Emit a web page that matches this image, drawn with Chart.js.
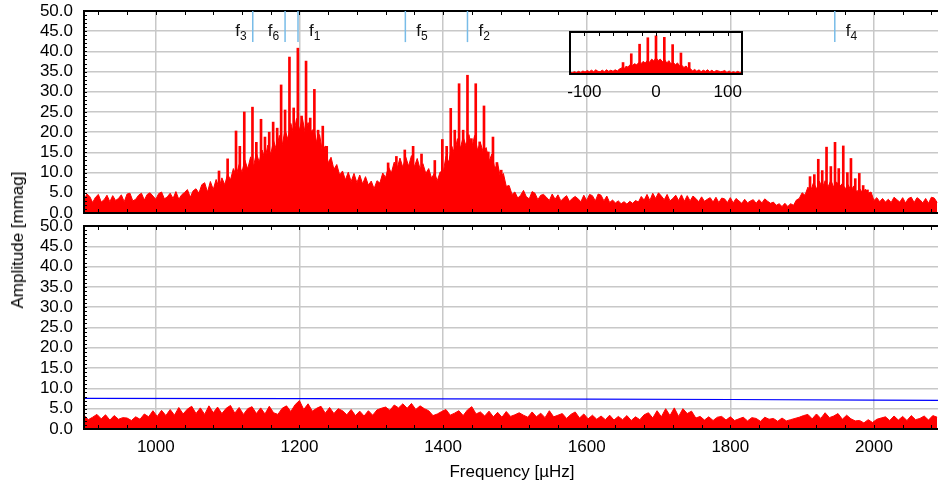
<!DOCTYPE html>
<html>
<head>
<meta charset="utf-8">
<script src="https://cdn.jsdelivr.net/npm/chart.js@4.4.1/dist/chart.umd.min.js"></script>
<style>
html, body { margin: 0; padding: 0; background: #fff; overflow: hidden; }
#wrap { position: relative; width: 938px; height: 489px; overflow: hidden; }
canvas { position: absolute; }
#topChart { left: 0; top: 0; }
#botChart { left: 0; top: 215px; }
#winChart { left: 550px; top: 20px; }
#ylab {
    position: absolute; left: 17.5px; top: 240px;
    transform: translate(-50%, -50%) rotate(-90deg);
    white-space: nowrap; font: 17px "Liberation Sans", Arial, sans-serif; color: #000;
}
</style>
</head>
<body>
<div id="wrap">
    <canvas id="topChart" width="941" height="224"></canvas>
    <canvas id="botChart" width="941" height="274"></canvas>
    <canvas id="winChart" width="210" height="85"></canvas>
    <div id="ylab">Amplitude [mmag]</div>
</div>
<script>
const FONT = '"Liberation Sans", Arial, sans-serif';
const GRID = "#c8c8c8";

// tick labels
const xTicks = [1000, 1200, 1400, 1600, 1800, 2000];
const yTicks = [0, 5, 10, 15, 20, 25, 30, 35, 40, 45, 50];
const winTicks = [-100, 0, 100];

// amplitude spectrum: highest value in each 4 µHz bin, bins start at 900 µHz
const specStart = 900, specStep = 4;
const specAmp = [
    3.2, 4.7, 4.1, 2.6, 3.9, 4.6, 2.7, 3.3, 4.4, 2.8,
    4.3, 3.1, 3.6, 4.5, 2.8, 4.7, 4.9, 3.0, 3.4, 4.4,
    4.9, 3.2, 4.6, 5.0, 4.2, 3.4, 4.8, 5.2, 3.5, 4.0,
    4.9, 3.6, 5.3, 3.4, 4.5, 5.1, 5.8, 3.9, 5.5, 6.0,
    4.9, 7.0, 7.5, 5.2, 7.8, 5.8, 8.3, 6.2, 8.7, 7.0,
    9.6, 8.2, 11.0, 9.3, 12.0, 10.1, 13.1, 10.9, 13.9, 11.5,
    14.8, 12.6, 15.6, 13.4, 16.8, 14.5, 17.9, 15.6, 19.2, 16.8,
    20.6, 18.2, 22.2, 19.6, 23.4, 20.5, 23.6, 19.8, 22.4, 20.2,
    20.8, 17.6, 19.4, 15.2, 16.6, 12.4, 13.8, 10.8, 12.0, 9.4,
    10.4, 8.2, 10.1, 7.8, 9.8, 7.5, 9.4, 7.2, 9.0, 6.9,
    7.9, 6.0, 8.0, 7.4, 9.9, 8.8, 11.4, 9.9, 12.6, 11.0,
    13.6, 11.3, 13.9, 11.6, 14.2, 11.4, 13.5, 10.9, 12.2, 9.8,
    11.0, 8.6, 9.9, 8.0, 10.2, 9.8, 14.0, 12.6, 16.6, 14.8,
    18.4, 16.0, 18.8, 16.6, 19.4, 16.2, 19.2, 15.6, 17.4, 15.0,
    16.2, 12.8, 14.6, 11.0, 12.2, 8.8, 9.8, 6.6, 6.8, 4.6,
    5.2, 3.7, 4.4, 5.6, 4.0, 3.5, 5.3, 4.9, 3.3, 4.4,
    4.6, 3.9, 3.1, 4.7, 3.4, 4.5, 3.0, 3.7, 4.3, 2.9,
    3.6, 4.1, 3.5, 2.8, 4.4, 3.1, 4.6, 4.3, 3.0, 4.7,
    4.4, 3.0, 4.2, 2.6, 3.2, 2.5, 3.0, 2.3, 2.8, 2.2,
    2.9, 2.4, 3.1, 2.7, 4.1, 3.2, 4.6, 3.1, 4.9, 3.6,
    5.0, 4.2, 3.3, 4.6, 3.0, 3.6, 4.4, 3.1, 4.5, 2.9,
    4.3, 3.0, 4.2, 3.6, 2.8, 4.0, 2.9, 3.4, 3.8, 2.7,
    3.9, 2.6, 3.7, 3.5, 2.6, 3.8, 2.5, 3.6, 3.0, 2.4,
    3.4, 2.5, 3.0, 3.3, 2.4, 3.3, 2.5, 3.5, 2.9, 2.4,
    2.7, 1.9, 2.3, 1.6, 2.4, 1.6, 2.3, 1.9, 3.2, 3.6,
    5.0, 4.4, 6.4, 5.5, 7.6, 5.9, 7.9, 6.1, 8.0, 6.4,
    8.1, 6.4, 7.7, 6.5, 7.3, 6.0, 7.0, 5.6, 6.7, 5.2,
    6.1, 5.0, 5.9, 4.9, 5.2, 3.1, 3.8, 2.8, 3.6, 2.7,
    3.4, 2.6, 3.9, 3.3, 2.7, 3.8, 2.5, 3.6, 3.9, 2.6,
    3.8, 3.3, 2.5, 3.6, 2.4, 3.9, 3.7, 2.6
];

// narrow peaks standing out of the spectrum (daily alias combs)
const peakFreq = [
    1088, 1100, 1111.7, 1117, 1123.2, 1134.6, 1140, 1146.5, 1152, 1157.9, 1163.4, 1169,
    1174.5, 1180, 1186.1, 1192, 1197.8, 1203, 1209.2, 1215, 1220.8, 1226, 1232.5, 1238,
    1323.5, 1335, 1346.7, 1358.3, 1370, 1388.5,
    1399, 1405, 1410.7, 1416.3, 1422.3, 1428, 1434, 1439.5, 1445.5, 1451, 1457, 1463,
    1469.5, 1475, 1481,
    1911, 1917, 1922.5, 1928, 1934, 1940, 1945.8, 1951, 1957.3, 1963, 1968, 1974,
    1979.6, 1985, 1991
];
const peakAmp = [
    10.4, 13.4, 20.3, 16.5, 25.0, 26.2, 17.5, 23.2, 18.8, 20.0, 22.5, 21.0,
    31.7, 25.5, 38.6, 26.0, 40.8, 24.0, 37.6, 23.5, 30.6, 20.5, 21.5, 16.5,
    12.4, 14.0, 15.6, 16.5, 14.6, 13.0,
    18.2, 16.5, 25.9, 20.5, 32.0, 20.5, 34.1, 18.4, 32.0, 17.6, 26.5, 15.1,
    18.8, 12.5, 10.6,
    9.0, 9.5, 13.3, 10.5, 16.3, 11.5, 17.5, 11.0, 16.6, 10.0, 13.5, 8.5,
    9.8, 6.8, 5.7
];

// residual spectrum after prewhitening: 6 µHz bins from 900 µHz
const resStart = 900, resStep = 6;
const resAmp = [
    3.4, 2.3, 2.9, 3.6, 2.5, 3.5, 2.2, 3.3, 2.4, 2.8,
    2.7, 2.1, 3.0, 2.4, 3.7, 3.0, 4.5, 3.1, 4.6, 3.3,
    4.8, 3.4, 5.3, 3.7, 4.9, 5.6, 3.8, 5.2, 3.6, 5.7,
    4.0, 5.4, 3.8, 5.1, 5.8, 3.9, 5.3, 3.6, 5.0, 5.5,
    3.8, 5.2, 3.7, 5.6, 4.0, 3.6, 5.1, 5.7, 4.3, 6.0,
    7.0, 4.8, 6.2, 4.4, 5.1, 5.6, 3.9, 5.3, 3.8, 5.0,
    4.5, 3.5, 4.8, 3.3, 4.4, 3.2, 4.5, 3.4, 4.7, 5.1,
    5.4, 4.6, 5.9, 5.2, 6.2, 5.1, 6.3, 4.8, 5.7, 5.0,
    4.5, 3.3, 3.7, 4.3, 4.8, 3.4, 3.9, 4.5, 3.3, 4.7,
    5.5, 3.7, 4.2, 3.2, 4.4, 3.0, 4.1, 2.9, 4.3, 3.1,
    3.5, 4.0, 3.4, 2.9, 4.2, 3.0, 3.9, 2.8, 4.5, 3.0,
    3.4, 3.8, 2.6, 3.6, 4.2, 2.7, 3.7, 2.5, 3.4, 2.4,
    3.2, 2.3, 3.4, 2.2, 3.1, 2.3, 3.3, 2.1, 3.0, 2.3,
    3.5, 4.0, 2.7, 4.5, 3.0, 5.0, 3.3, 5.2, 3.1, 5.0,
    3.8, 4.4, 2.7, 3.1, 2.2, 3.0, 2.1, 2.9, 3.1, 2.2,
    3.0, 2.1, 2.5, 2.9, 2.0, 2.8, 2.6, 1.9, 2.9, 2.4,
    2.6, 1.9, 2.7, 2.0, 2.3, 2.6, 2.9, 3.3, 3.6, 2.5,
    3.7, 2.6, 4.0, 2.8, 3.2, 3.8, 2.4, 3.4, 2.5, 2.0,
    2.1, 1.5, 2.3, 1.6, 2.4, 2.7, 3.0, 2.1, 3.2, 2.2,
    3.1, 2.1, 3.3, 2.3, 2.6, 3.2, 2.2, 3.3, 2.9
];

// significance level of the residuals
const sigFreq = [900, 1200, 1400, 1600, 1800, 2000, 2092];
const sigAmp = [7.55, 7.5, 7.42, 7.36, 7.27, 7.12, 7.05];

// identified frequencies
const modeNames = ["f1", "f2", "f3", "f4", "f5", "f6"];
const modeFreq = [1198, 1434, 1135, 1945.5, 1347.5, 1180];
const leftLabels = ["f3", "f6"];

// spectral window (inset): 3 µHz bins from -120 µHz, plus its alias peaks
const winStart = -120, winStep = 3;
const winAmp = [
    0.05, 0.03, 0.06, 0.04, 0.07, 0.04, 0.08, 0.05, 0.09, 0.06,
    0.10, 0.06, 0.11, 0.07, 0.06, 0.10, 0.06, 0.11, 0.07, 0.10,
    0.07, 0.11, 0.08, 0.13, 0.16, 0.12, 0.20, 0.18, 0.25, 0.22,
    0.27, 0.24, 0.30, 0.27, 0.33, 0.29, 0.36, 0.31, 0.39, 0.34,
    0.43, 0.35, 0.39, 0.32, 0.38, 0.29, 0.35, 0.26, 0.31, 0.24,
    0.29, 0.21, 0.23, 0.17, 0.21, 0.13, 0.14, 0.08, 0.12, 0.07,
    0.11, 0.06, 0.10, 0.07, 0.11, 0.06, 0.10, 0.05, 0.09, 0.08,
    0.06, 0.07, 0.09, 0.04, 0.08, 0.04, 0.06, 0.04, 0.07, 0.04,
    0.05
];
const winPeakX = [-46, -34.5, -22.9, -11.4, 0, 11.6, 23.2, 34.8, 46.3];
const winPeakY = [0.30, 0.53, 0.78, 0.95, 1.0, 0.96, 0.77, 0.55, 0.30];

const binned = (start, step, arr) => arr.map((a, i) => ({x: start + i * step, y: a}));
const paired = (xs, ys) => xs.map((v, i) => ({x: v, y: ys[i]}));
const setTicks = list => s => { s.ticks = list.map(v => ({value: v})); };
const noPad = s => { s.paddingTop = 0; s.paddingBottom = 0; s.paddingLeft = 0; s.paddingRight = 0; };

// frame + small inward ticks
const framePlugin = {
    id: "frame",
    afterDatasetsDraw(chart, args, opts) {
        const {ctx, chartArea: a, scales: {x, y}} = chart;
        ctx.save();
        ctx.strokeStyle = "#000";
        ctx.lineWidth = 1;
        ctx.beginPath();
        if (opts.xMinor) {
            for (let v = Math.ceil(x.min / opts.xMinor) * opts.xMinor; v <= x.max; v += opts.xMinor) {
                const px = Math.round(x.getPixelForValue(v)) + 0.5;
                ctx.moveTo(px, a.top); ctx.lineTo(px, a.top + 4);
                if (opts.bottom) { ctx.moveTo(px, a.bottom); ctx.lineTo(px, a.bottom - 4); }
            }
        }
        if (opts.yMinor) {
            for (let v = y.min; v <= y.max; v += opts.yMinor) {
                const py = Math.round(y.getPixelForValue(v)) + 0.5;
                ctx.moveTo(a.left, py); ctx.lineTo(a.left + 3, py);
            }
        }
        ctx.stroke();
        ctx.lineWidth = 2;
        ctx.strokeRect(a.left, a.top, a.right - a.left, a.bottom - a.top);
        ctx.restore();
    }
};

// blue markers with f labels
const modePlugin = {
    id: "modes",
    afterDatasetsDraw(chart) {
        const {ctx, chartArea: a, scales: {x, y}} = chart;
        const yEnd = y.getPixelForValue(42.3);
        ctx.save();
        modeFreq.forEach((f, i) => {
            const px = x.getPixelForValue(f);
            ctx.strokeStyle = "#78bce8";
            ctx.lineWidth = 1.5;
            ctx.beginPath();
            ctx.moveTo(px, a.top);
            ctx.lineTo(px, yEnd);
            ctx.stroke();
            const sub = modeNames[i].slice(1);
            ctx.fillStyle = "#111";
            ctx.font = "17px " + FONT;
            const w1 = ctx.measureText("f").width;
            ctx.font = "12px " + FONT;
            const w2 = ctx.measureText(sub).width;
            const x0 = leftLabels.includes(modeNames[i]) ? px - 6 - w1 - w2 : px + 11;
            ctx.font = "17px " + FONT;
            ctx.fillText("f", x0, a.top + 25);
            ctx.font = "12px " + FONT;
            ctx.fillText(sub, x0 + w1, a.top + 29);
        });
        ctx.restore();
    }
};

const yAxis = () => ({
    min: 0, max: 50,
    ticks: {color: "#000", font: {size: 17, family: FONT}, padding: 11, autoSkip: false,
            callback: v => v.toFixed(1)},
    grid: {color: GRID, lineWidth: 1.5, drawTicks: false},
    border: {color: "#000", width: 2},
    afterBuildTicks: setTicks(yTicks),
    afterFit: s => { s.width = 84; noPad(s); }
});

const spectrumSet = data => ({
    type: "line", data: data, fill: "origin", tension: 0,
    borderColor: "#ff0000", backgroundColor: "#ff0000", borderWidth: 1, pointRadius: 0
});

const baseOptions = {
    responsive: false, animation: false, events: [],
    plugins: {legend: {display: false}, tooltip: {enabled: false}}
};

// top panel: original spectrum
new Chart(document.getElementById("topChart"), {
    type: "line",
    data: {
        datasets: [
            spectrumSet(binned(specStart, specStep, specAmp)),
            {type: "bar", data: paired(peakFreq, peakAmp), backgroundColor: "#ff0000",
             barThickness: 2, grouped: false}
        ]
    },
    options: {
        ...baseOptions,
        layout: {padding: {left: 0, right: 1, top: 11, bottom: 0}},
        plugins: {...baseOptions.plugins, frame: {xMinor: 40, yMinor: 1, bottom: true}},
        scales: {
            x: {type: "linear", min: 900, max: 2092, offset: false,
                ticks: {display: false},
                grid: {color: GRID, lineWidth: 1.5, drawTicks: false, offset: false},
                border: {color: "#000", width: 2},
                afterBuildTicks: setTicks(xTicks),
                afterFit: s => { s.height = 11; noPad(s); }},
            y: yAxis()
        }
    },
    plugins: [framePlugin, modePlugin]
});

// bottom panel: residuals and significance level
new Chart(document.getElementById("botChart"), {
    type: "line",
    data: {
        datasets: [
            {data: paired(sigFreq, sigAmp), borderColor: "#0000ff", borderWidth: 1.2,
             pointRadius: 0, fill: false},
            spectrumSet(binned(resStart, resStep, resAmp))
        ]
    },
    options: {
        ...baseOptions,
        layout: {padding: {left: 0, right: 1, top: 11, bottom: 0}},
        plugins: {...baseOptions.plugins, frame: {xMinor: 40, yMinor: 1, bottom: true}},
        scales: {
            x: {type: "linear", min: 900, max: 2092, offset: false,
                ticks: {color: "#000", font: {size: 17, family: FONT}, padding: 8,
                        maxRotation: 0, autoSkip: false, callback: v => String(v)},
                grid: {color: GRID, lineWidth: 1.5, drawTicks: false, offset: false},
                border: {color: "#000", width: 2},
                title: {display: true, text: "Frequency [µHz]", color: "#000",
                        font: {size: 17, family: FONT}, padding: {top: 0, bottom: 6}},
                afterBuildTicks: setTicks(xTicks),
                afterFit: s => { s.height = 60; noPad(s); }},
            y: yAxis()
        }
    },
    plugins: [framePlugin]
});

// inset: spectral window
new Chart(document.getElementById("winChart"), {
    type: "line",
    data: {
        datasets: [
            spectrumSet(binned(winStart, winStep, winAmp)),
            {type: "bar", data: paired(winPeakX, winPeakY), backgroundColor: "#ff0000",
             barThickness: 2, grouped: false}
        ]
    },
    options: {
        ...baseOptions,
        layout: {padding: {left: 20, right: 18, top: 12, bottom: 0}},
        plugins: {...baseOptions.plugins, frame: {xMinor: 20}},
        scales: {
            x: {type: "linear", min: -120, max: 120, offset: false,
                ticks: {color: "#000", font: {size: 17, family: FONT}, padding: 8,
                        maxRotation: 0, autoSkip: false, callback: v => String(v)},
                grid: {display: false, drawTicks: false},
                border: {display: false},
                afterBuildTicks: setTicks(winTicks),
                afterFit: s => { s.height = 31; noPad(s); }},
            y: {min: 0, max: 1.1, display: false, afterFit: noPad}
        }
    },
    plugins: [framePlugin]
});
</script>
</body>
</html>
